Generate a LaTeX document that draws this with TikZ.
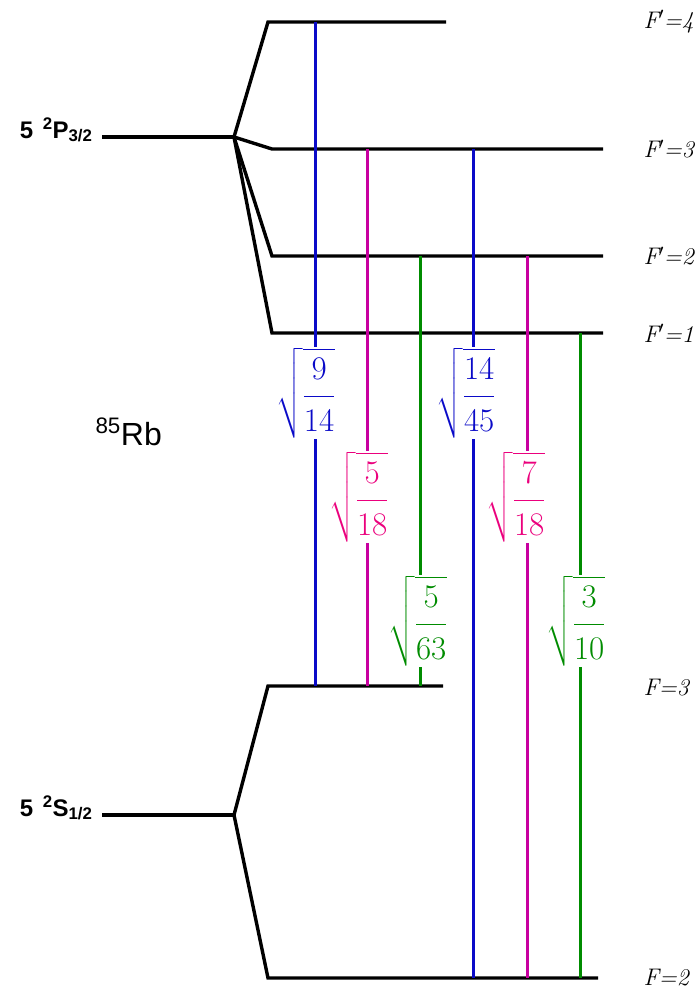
\RequirePackage{fix-cm}
\documentclass[tikz,border=0pt]{standalone}
\usepackage{amsmath}
\usepackage{fontspec}
\newfontfamily\rbsans{Liberation Sans}
\usepackage{tikz}
\usetikzlibrary{positioning}
\definecolor{rbBlue}{RGB}{10,10,200}
\definecolor{rbMagenta}{RGB}{200,0,160}
\definecolor{rbPink}{RGB}{235,0,125}
\definecolor{rbGreen}{RGB}{0,140,0}
\newcommand{\rbamp}[2]{$\sqrt{\dfrac{\rule[-14pt]{0pt}{14pt}#1}{\rule{0pt}{31pt}#2}}$}

\begin{document}
\begin{tikzpicture}[
  x=1pt, y=-1pt,
  lev/.style={draw=black, line width=3.4pt, line join=miter},
  tr/.style={line width=3pt},
  amp/.style={fill=white, inner sep=1pt, font=\fontsize{33}{38}\selectfont},
  flab/.style={anchor=west, font=\fontsize{24}{27}\selectfont\itshape},
  term/.style={anchor=base east, font=\rbsans\bfseries\fontsize{24}{28}\selectfont},
]
\useasboundingbox (0,0) rectangle (697,994);

% fine structure points
\coordinate (p32) at (234,137);
\coordinate (s12) at (234,815);

% upper hyperfine levels
\coordinate (f4a) at (268,22);  \coordinate (f4b) at (446,22);
\coordinate (f3a) at (272,149); \coordinate (f3b) at (603,149);
\coordinate (f2a) at (272,256); \coordinate (f2b) at (603,256);
\coordinate (f1a) at (272,333); \coordinate (f1b) at (603,333);
% lower hyperfine levels
\coordinate (g3a) at (268,686); \coordinate (g3b) at (443,686);
\coordinate (g2a) at (268,978); \coordinate (g2b) at (598,978);

\draw[lev] (102,137) -- (p32);
\draw[lev] (p32) -- (f4a) -- (f4b);
\draw[lev] (p32) -- (f3a) -- (f3b);
\draw[lev] (p32) -- (f2a) -- (f2b);
\draw[lev] (p32) -- (f1a) -- (f1b);
\draw[lev] (102,815) -- (s12);
\draw[lev] (s12) -- (g3a) -- (g3b);
\draw[lev] (s12) -- (g2a) -- (g2b);

\node[term] (lp) at (96,138) {5\hspace{0.4em}\textsuperscript{2}P\textsubscript{3/2}};
\node[term] (ls) at (96,816) {5\hspace{0.4em}\textsuperscript{2}S\textsubscript{1/2}};
\node[anchor=base west, font=\rbsans\fontsize{32}{36}\selectfont] (rb) at (92,445) {\textsuperscript{85}Rb};

\node[flab] (n4) at (640,22)  {F$'$=4};
\node[flab] (n3) at (640,149) {F$'$=3};
\node[flab] (n2) at (640,256) {F$'$=2};
\node[flab] (n1) at (640,333) {F$'$=1};
\node[flab] (m3) at (640,688) {F=3};
\node[flab] (m2) at (640,978) {F=2};

% transitions F=3 -> F'
\draw[tr, rbBlue] (315,22) -- (315,686);
\draw[tr, rbMagenta] (367,149) -- (367,686);
\draw[tr, rbGreen] (420,256) -- (420,686);
% transitions F=2 -> F'
\draw[tr, rbBlue] (473,149) -- (473,978);
\draw[tr, rbMagenta] (527,256) -- (527,978);
\draw[tr, rbGreen] (580,333) -- (580,978);

\node[amp, text=rbBlue] (c43) at (306,393) {\rbamp{9}{14}};
\node[amp, text=rbPink] (c33) at (359,497) {\rbamp{5}{18}};
\node[amp, text=rbGreen] (c23) at (418,621) {\rbamp{5}{63}};
\node[amp, text=rbBlue] (c32) at (466,393) {\rbamp{14}{45}};
\node[amp, text=rbPink] (c22) at (516,497) {\rbamp{7}{18}};
\node[amp, text=rbGreen] (c12) at (576,621) {\rbamp{3}{10}};
\end{tikzpicture}
\end{document}
